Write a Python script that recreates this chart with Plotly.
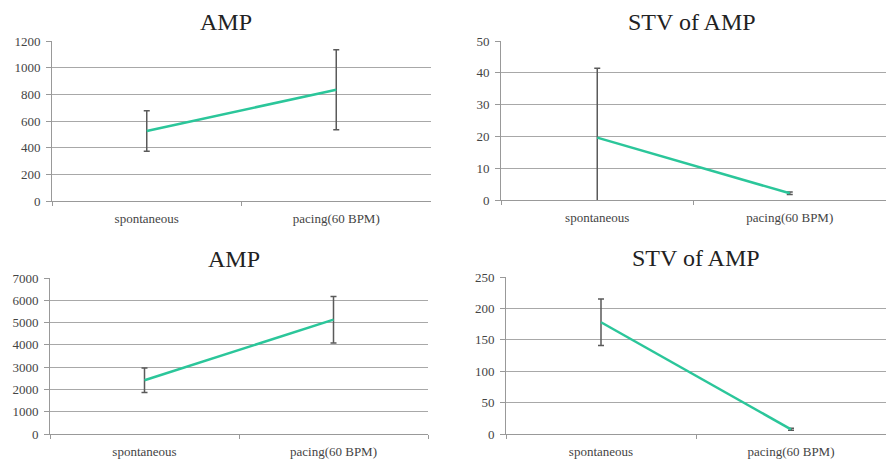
import plotly.graph_objects as go

categories = ["spontaneous", "pacing(60 BPM)"]
titles = ["AMP", "STV of AMP", "AMP", "STV of AMP"]

amp1_mean = [525, 835]
amp1_err = [152, 300]
stv1_mean = [19.6, 2.1]
stv1_err = [21.8, 0.4]
amp2_mean = [2410, 5130]
amp2_err = [550, 1045]
stv2_mean = [178, 7.5]
stv2_err = [37, 1.5]

y_ranges = [[0, 1200], [0, 50], [0, 7000], [0, 250]]
y_dticks = [200, 10, 1000, 50]

W, H = 886, 459
# pixel boxes in screenshot coordinates (left, top, right, bottom)
boxes = [(52, 41, 431, 201), (501, 41, 886, 200), (50, 278, 428, 434), (506, 277, 886, 434)]
title_pos = [(226, 22), (692, 22), (234, 259), (696, 258)]

series = [(amp1_mean, amp1_err), (stv1_mean, stv1_err), (amp2_mean, amp2_err), (stv2_mean, stv2_err)]

fig = go.Figure()
serif = "Liberation Serif, Times New Roman, serif"
for i, (m, e) in enumerate(series):
    sfx = "" if i == 0 else str(i + 1)
    fig.add_trace(go.Scatter(
        x=categories, y=m, mode="lines",
        line=dict(color="#2BC69A", width=2.5),
        error_y=dict(type="data", array=e, visible=True, color="#5a5a5a", thickness=1.5, width=3),
        xaxis="x" + sfx, yaxis="y" + sfx, showlegend=False, hoverinfo="skip"))
    l, t, r, b = boxes[i]
    fig.update_layout(**{
        "xaxis" + sfx: dict(domain=[l / W, r / W], anchor="y" + sfx, type="category",
                             range=[-0.5, 1.5], tickson="boundaries", ticks="outside", ticklen=4,
                             tickcolor="#999999", showline=True, linecolor="#999999", linewidth=1,
                             showgrid=False, ticklabelstandoff=5, automargin=False,
                             tickfont=dict(family=serif, size=13, color="#444444")),
        "yaxis" + sfx: dict(domain=[1 - b / H, 1 - t / H], anchor="x" + sfx, range=y_ranges[i],
                             dtick=y_dticks[i], ticks="outside", ticklen=5, tickcolor="#999999",
                             showline=True, linecolor="#999999", linewidth=1,
                             showgrid=True, gridcolor="#a8a8a8", gridwidth=1, zeroline=False,
                             ticklabelstandoff=3, automargin=False,
                             tickfont=dict(family=serif, size=13, color="#444444")),
    })
    tx, ty = title_pos[i]
    fig.add_annotation(text=titles[i], x=tx / W, y=1 - ty / H,
                       xref="paper", yref="paper",
                       showarrow=False, xanchor="center", yanchor="middle",
                       font=dict(family=serif, size=24, color="#222222"))

fig.update_layout(width=W, height=H, margin=dict(l=0, r=0, t=0, b=0, autoexpand=False),
                  paper_bgcolor="white", plot_bgcolor="white")
fig.write_html("out.html", config={"displayModeBar": False},
               post_script="document.documentElement.style.margin='0';"
                           "document.body.style.margin='0';document.body.style.padding='0';"
                           "document.body.style.overflow='hidden';")
